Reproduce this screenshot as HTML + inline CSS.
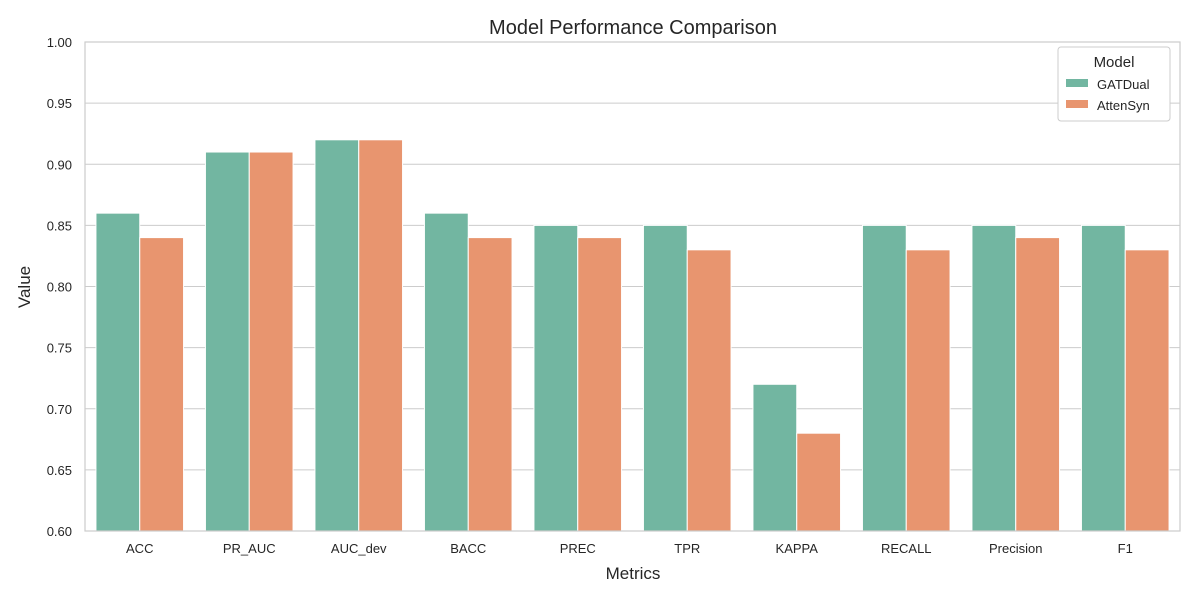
<!DOCTYPE html>
<html><head><meta charset="utf-8"><style>
body{margin:0;background:#fff;font-family:"Liberation Sans",sans-serif}
svg text{font-family:"Liberation Sans",sans-serif;fill:#262626}
</style></head><body>
<svg id="chart" width="1200" height="600" viewBox="0 0 1200 600" xmlns="http://www.w3.org/2000/svg">
<text x="633" y="34" font-size="20" text-anchor="middle">Model Performance Comparison</text>
<g id="grid"></g><g id="bars"></g><g id="axes"></g>
<text x="633" y="579" font-size="17" text-anchor="middle">Metrics</text>
<text transform="translate(30,287) rotate(-90)" font-size="17" text-anchor="middle">Value</text>
<g>
<rect x="1058" y="47" width="112" height="74" rx="3" fill="#fff" stroke="#ccc"/>
<text x="1114" y="67" font-size="15" text-anchor="middle">Model</text>
<rect x="1066" y="79" width="22" height="8" fill="#72b6a1"/>
<text x="1097" y="89" font-size="13">GATDual</text>
<rect x="1066" y="100" width="22" height="8" fill="#e8956f"/>
<text x="1097" y="110" font-size="13">AttenSyn</text>
</g>
</svg>
<script>
const categories=["ACC","PR_AUC","AUC_dev","BACC","PREC","TPR","KAPPA","RECALL","Precision","F1"];
const gatdual=[0.86,0.91,0.92,0.86,0.85,0.85,0.72,0.85,0.85,0.85];
const attensyn=[0.84,0.91,0.92,0.84,0.84,0.83,0.68,0.83,0.84,0.83];
const yTicks=[0.60,0.65,0.70,0.75,0.80,0.85,0.90,0.95,1.00];
const L=85,R=1180,T=42,B=531,ymin=0.6,ymax=1.0;
const ns="http://www.w3.org/2000/svg";
const y=v=>B-(v-ymin)/(ymax-ymin)*(B-T);
const bw=(R-L)/categories.length;
const x=i=>L+i*bw;
function mk(t,a,p){const e=document.createElementNS(ns,t);for(const k in a)e.setAttribute(k,a[k]);document.getElementById(p).appendChild(e);return e;}
yTicks.forEach(v=>{
 const g=mk("line",{x1:L,x2:R,y1:y(v),y2:y(v),stroke:"#cccccc","stroke-width":1},"grid");
 
 
 const t=mk("text",{x:L-13,y:y(v)+5,"font-size":13,"text-anchor":"end"},"axes");t.textContent=v.toFixed(2);
 
 
});
categories.forEach((c,i)=>{
 const w=bw*0.4,x0=x(i)+bw*0.1;
 const a=mk("rect",{x:x0,y:y(gatdual[i]),width:w,height:B-y(gatdual[i]),fill:"#72b6a1",stroke:"#fff","stroke-width":1},"bars");
 
 
 const b=mk("rect",{x:x0+w,y:y(attensyn[i]),width:w,height:B-y(attensyn[i]),fill:"#e8956f",stroke:"#fff","stroke-width":1},"bars");
 
 
 const t=mk("text",{x:x(i)+bw/2,y:553,"font-size":13,"text-anchor":"middle"},"axes");t.textContent=c;
 
 
});
const fr=mk("rect",{x:L,y:T,width:R-L,height:B-T,fill:"none",stroke:"#cccccc","stroke-width":1.2},"axes");


</script>
</body></html>
